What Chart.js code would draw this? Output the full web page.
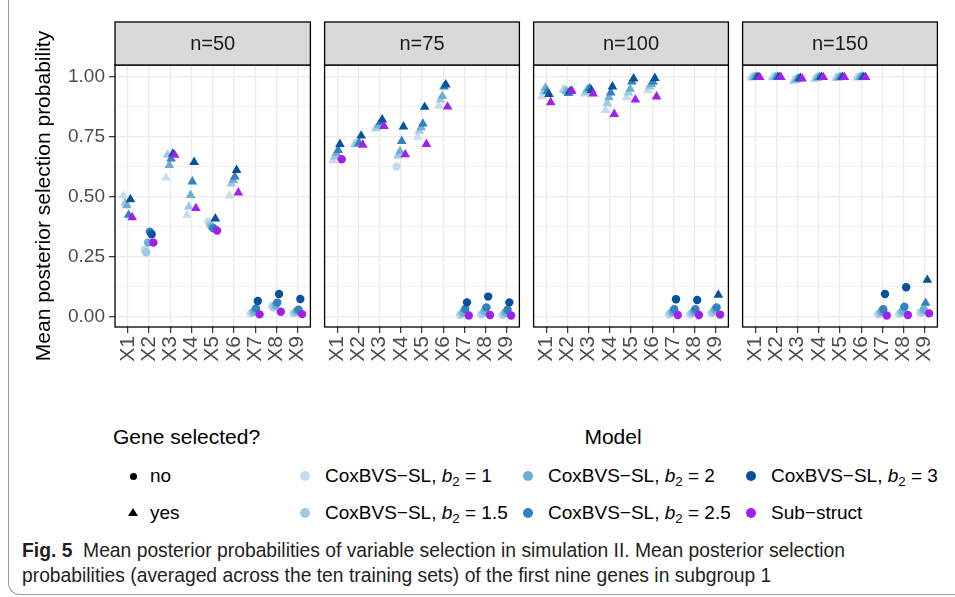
<!DOCTYPE html>
<html>
<head>
<meta charset="utf-8">
<script src="https://cdn.jsdelivr.net/npm/chart.js@4.4.0/dist/chart.umd.min.js"></script>
<style>
  html,body{margin:0;padding:0;background:#fff;}
  body{width:955px;height:597px;overflow:hidden;position:relative;font-family:"Liberation Sans",Arial,sans-serif;}
  .frame{position:absolute;left:8px;top:-20px;width:1000px;height:615px;border-left:1px solid #9a9a9a;border-bottom:1px solid #9a9a9a;border-bottom-left-radius:12px;box-sizing:border-box;}
  canvas{position:absolute;top:0;}
  .lg{position:absolute;white-space:nowrap;color:#000;line-height:1;}
  .lgt{font-size:21px;}
  .lgi{font-size:19px;}
  .mk{position:absolute;}
  .cap{position:absolute;left:22px;font-family:"Liberation Sans Narrow","Liberation Sans",Arial,sans-serif;font-size:19.3px;color:#231f20;white-space:nowrap;line-height:1;}
  sub{font-size:0.7em;vertical-align:-0.3em;line-height:0;}
</style>
</head>
<body>
<div class="frame"></div>
<canvas id="p0" width="316" height="380" style="left:0px"></canvas>
<canvas id="p1" width="206" height="380" style="left:319px"></canvas>
<canvas id="p2" width="206" height="380" style="left:528px"></canvas>
<canvas id="p3" width="206" height="380" style="left:737px"></canvas>
<div id="legend"></div>
<div class="cap" style="top:541px"><b>Fig. 5</b>&nbsp; Mean posterior probabilities of variable selection in simulation II. Mean posterior selection</div>
<div class="cap" style="top:566px">probabilities (averaged across the ten training sets) of the first nine genes in subgroup 1</div>
<script>
// ---------- data ----------
const genes = ['X1','X2','X3','X4','X5','X6','X7','X8','X9'];
const panelLabels = ['n=50','n=75','n=100','n=150'];
const modelNames = ['CoxBVS\u2212SL','CoxBVS\u2212SL','CoxBVS\u2212SL','CoxBVS\u2212SL','CoxBVS\u2212SL','Sub\u2212struct'];
const modelB2 = ['1','1.5','2','2.5','3',''];
const modelColors = ['#c6dbef','#9ecae1','#6baed6','#3182bd','#08519c','#a020f0'];
const shapeLevels = ['no','yes'];
const yTickValues = [0,0.25,0.5,0.75,1];
const yTickLabels = ['0.00','0.25','0.50','0.75','1.00'];
const yMinorValues = [0.125,0.375,0.625,0.875];
const yAxisTitle = 'Mean posterior selection probability';

// rows: b2=1, b2=1.5, b2=2, b2=2.5, b2=3, Sub-struct ; cols: X1..X9
const n50 = [
  [0.505,0.280,0.580,0.425,0.397,0.505,0.015,0.045,0.015],
  [0.475,0.270,0.675,0.460,0.385,0.555,0.018,0.040,0.018],
  [0.465,0.310,0.633,0.508,0.375,0.570,0.025,0.050,0.025],
  [0.425,0.355,0.660,0.564,0.370,0.585,0.036,0.060,0.030],
  [0.490,0.345,0.680,0.645,0.410,0.612,0.067,0.096,0.075],
  [0.415,0.310,0.675,0.453,0.360,0.518,0.011,0.022,0.012]
];
const n75 = [
  [0.652,0.720,0.785,0.627,0.750,0.879,0.008,0.010,0.008],
  [0.668,0.720,0.790,0.672,0.775,0.905,0.012,0.015,0.012],
  [0.683,0.720,0.800,0.690,0.790,0.920,0.020,0.025,0.020],
  [0.695,0.725,0.812,0.733,0.805,0.960,0.033,0.040,0.030],
  [0.720,0.755,0.822,0.793,0.875,0.968,0.061,0.085,0.061],
  [0.657,0.717,0.795,0.677,0.720,0.876,0.006,0.008,0.006]
];
const n100 = [
  [0.918,0.948,0.930,0.862,0.915,0.945,0.010,0.010,0.015],
  [0.940,0.945,0.938,0.890,0.935,0.960,0.015,0.015,0.020],
  [0.955,0.940,0.948,0.915,0.950,0.970,0.022,0.022,0.030],
  [0.940,0.932,0.953,0.935,0.980,0.980,0.032,0.032,0.040],
  [0.928,0.940,0.945,0.960,0.993,0.995,0.074,0.071,0.092],
  [0.894,0.942,0.930,0.845,0.905,0.918,0.008,0.008,0.010]
];
const n150 = [
  [0.997,0.998,0.983,0.990,0.995,0.997,0.010,0.012,0.018],
  [0.998,0.999,0.988,0.995,0.997,0.998,0.015,0.017,0.022],
  [0.999,0.999,0.990,0.997,0.998,0.999,0.022,0.025,0.030],
  [1.000,1.000,0.993,0.999,0.999,1.000,0.032,0.043,0.058],
  [1.000,1.000,0.995,1.000,1.000,1.000,0.096,0.124,0.154],
  [0.999,0.999,0.993,0.999,0.999,0.999,0.006,0.008,0.015]
];
// gene selected? 1 = yes (triangle), 0 = no (circle)
const n50Sel = [
  [1,0,1,1,0,1,0,0,0],
  [1,0,1,1,0,1,0,0,0],
  [1,0,1,1,0,1,0,0,0],
  [1,0,1,1,0,1,0,0,0],
  [1,0,1,1,1,1,0,0,0],
  [1,0,1,1,0,1,0,0,0]
];
const n75Sel = [
  [1,1,1,0,1,1,0,0,0],
  [1,1,1,1,1,1,0,0,0],
  [1,1,1,1,1,1,0,0,0],
  [1,1,1,1,1,1,0,0,0],
  [1,1,1,1,1,1,0,0,0],
  [0,1,1,1,1,1,0,0,0]
];
const n100Sel = [
  [1,1,1,1,1,1,0,0,0],
  [1,1,1,1,1,1,0,0,0],
  [1,1,1,1,1,1,0,0,0],
  [1,1,1,1,1,1,0,0,0],
  [1,1,1,1,1,1,0,0,1],
  [1,1,1,1,1,1,0,0,0]
];
const n150Sel = [
  [1,1,1,1,1,1,0,0,0],
  [1,1,1,1,1,1,0,0,0],
  [1,1,1,1,1,1,0,0,0],
  [1,1,1,1,1,1,0,0,1],
  [1,1,1,1,1,1,0,0,1],
  [1,1,1,1,1,1,0,0,0]
];
const panelValues = [n50, n75, n100, n150];
const panelSel = [n50Sel, n75Sel, n100Sel, n150Sel];

// ---------- styling / layout ----------
const DODGE = 0.5;
const nModels = modelNames.length;
const dodgeOffset = i => (i - (nModels - 1) / 2) * DODGE / nModels;
const GRID = '#ebebeb';
const TICKCOL = '#333333';
const TXT = '#4d4d4d';
const FONT = '"Liberation Sans", Arial, sans-serif';
const STRIP_TOP = 22;

const facetPlugin = {
  id: 'facet',
  afterDraw(chart, args, opts) {
    const {ctx, chartArea: a} = chart;
    ctx.save();
    ctx.strokeStyle = '#000';
    ctx.lineWidth = 1.3;
    ctx.strokeRect(a.left, a.top, a.right - a.left, a.bottom - a.top);
    ctx.fillStyle = '#d9d9d9';
    ctx.fillRect(a.left, STRIP_TOP, a.right - a.left, a.top - STRIP_TOP);
    ctx.strokeRect(a.left, STRIP_TOP, a.right - a.left, a.top - STRIP_TOP);
    ctx.fillStyle = '#1a1a1a';
    ctx.font = '20px ' + FONT;
    ctx.textAlign = 'center';
    ctx.textBaseline = 'middle';
    ctx.fillText(opts.label, (a.left + a.right) / 2, (STRIP_TOP + a.top) / 2 + 1);
    ctx.restore();
  }
};

function makePanel(p) {
  const first = p === 0;
  const vals = panelValues[p], sel = panelSel[p];
  const datasets = modelNames.map((m, i) => ({
    label: m + (modelB2[i] ? ', b2 = ' + modelB2[i] : ''),
    data: genes.map((g, j) => ({x: j + 1 + dodgeOffset(i), y: vals[i][j]})),
    pointStyle: sel[i].map(s => s ? 'triangle' : 'circle'),
    pointRadius: sel[i].map(s => s ? 5.6 : 4.2),
    pointBackgroundColor: modelColors[i],
    pointBorderWidth: 0,
    pointBorderColor: modelColors[i],
    showLine: false,
    order: nModels - 1 - i
  }));
  return new Chart(document.getElementById('p' + p), {
    type: 'scatter',
    data: {datasets},
    plugins: [facetPlugin],
    options: {
      responsive: false,
      animation: false,
      devicePixelRatio: 1,
      layout: {padding: {left: first ? 0 : 5, right: 5, top: 65, bottom: 0}},
      plugins: {legend: {display: false}, tooltip: {enabled: false}, facet: {label: panelLabels[p]}},
      scales: {
        x: {
          type: 'linear', min: 0.4, max: genes.length + 0.6,
          afterBuildTicks: s => { s.ticks = genes.map((g, j) => ({value: j + 1})); },
          afterFit: s => { s.height = 53; s.paddingLeft = 0; s.paddingRight = 0; },
          ticks: {
            autoSkip: false, minRotation: 90, maxRotation: 90, padding: 3,
            color: TXT, font: {family: FONT, size: 21},
            callback: (v, idx) => genes[idx]
          },
          grid: {color: GRID, lineWidth: 1.3, tickColor: TICKCOL, tickLength: 6, tickWidth: 1.2},
          border: {display: false}
        },
        y: {
          type: 'linear', min: -0.0417, max: 1.05,
          afterBuildTicks: s => {
            s.ticks = yTickValues.concat(yMinorValues).sort((a, b) => a - b).map(v => ({value: v}));
          },
          afterFit: s => { s.width = first ? 115 : 0; s.paddingTop = 0; s.paddingBottom = 0; },
          ticks: {
            display: first, padding: 4, color: TXT, font: {family: FONT, size: 19},
            callback: v => { const k = yTickValues.indexOf(v); return k >= 0 ? yTickLabels[k] : ''; }
          },
          grid: {
            drawTicks: first, tickLength: 6, tickWidth: 1.2,
            color: c => GRID,
            lineWidth: c => (c.tick && yTickValues.indexOf(c.tick.value) >= 0) ? 1.3 : 0.7,
            tickColor: c => (c.tick && yTickValues.indexOf(c.tick.value) >= 0) ? TICKCOL : 'rgba(0,0,0,0)'
          },
          border: {display: false},
          title: {
            display: first, text: yAxisTitle, color: '#000',
            font: {family: FONT, size: 21}, padding: {top: 32, bottom: 0}
          }
        }
      }
    }
  });
}
for (let p = 0; p < panelLabels.length; p++) makePanel(p);

// ---------- legend (HTML) ----------
const lg = document.getElementById('legend');
function add(html, cls, left, top, extra) {
  const d = document.createElement('div');
  d.className = cls; d.innerHTML = html;
  d.style.left = left + 'px'; d.style.top = top + 'px';
  if (extra) Object.assign(d.style, extra);
  lg.appendChild(d); return d;
}
const rowY = [476, 513];
add('Gene selected?', 'lg lgt', 113, 437 - 11);
const mt = add('Model', 'lg lgt', 613, 437 - 11);
mt.style.transform = 'translateX(-50%)';
shapeLevels.forEach((s, k) => {
  const y = rowY[k];
  if (k === 0) {
    add('', 'mk', 133 - 3.5, y - 3.5, {width: '7px', height: '7px', borderRadius: '50%', background: '#000'});
  } else {
    add('', 'mk', 133 - 5, y - 5, {width: '0', height: '0', borderLeft: '5px solid transparent', borderRight: '5px solid transparent', borderBottom: '8.5px solid #000'});
  }
  add(s, 'lg lgi', 150, y - 10);
});
const colX = [305, 528, 751];
modelNames.forEach((m, i) => {
  const col = Math.floor(i / 2), row = i % 2;
  const x = colX[col], y = rowY[row];
  add('', 'mk', x - 5, y - 5, {width: '10px', height: '10px', borderRadius: '50%', background: modelColors[i]});
  const txt = modelB2[i] ? m + ', <i>b</i><sub>2</sub> = ' + modelB2[i] : m;
  add(txt, 'lg lgi', x + 20, y - 10);
});
</script>
</body>
</html>
